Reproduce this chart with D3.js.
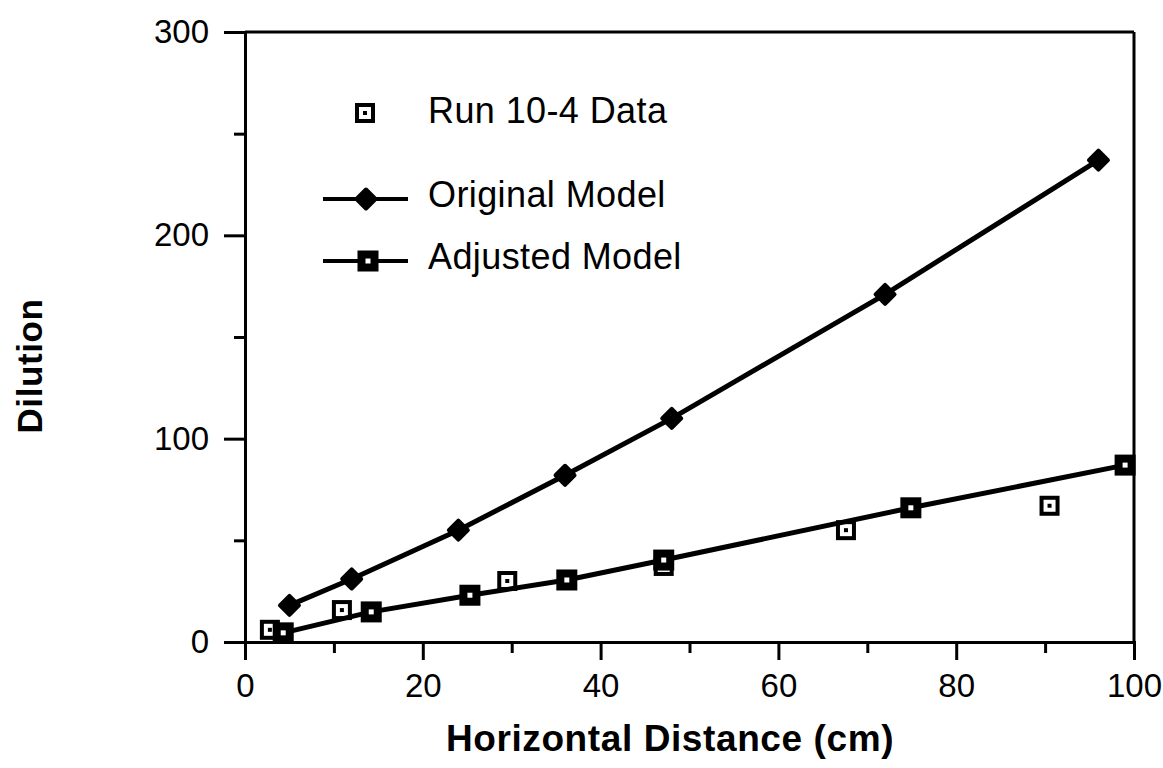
<!DOCTYPE html>
<html>
  <style>
    body { margin: 0; background: #fff; }
    text { font-family: "Liberation Sans", Arial, sans-serif; fill: #000; }
    .axis-title { font-size: 37px; font-weight: bold; letter-spacing: 0.6px; }
    .legend-label { font-size: 36px; letter-spacing: 0.4px; }
  </style>
  <body>
    <div id="chart"></div>
  </body>
  <script src="https://d3js.org/d3.v7.min.js"></script>
  <script>
    // Original model (filled diamonds)
    const ORIGINAL_X = [5, 12, 24, 36, 48, 72, 96];
    const ORIGINAL_Y = [18, 31, 55, 82, 110, 171, 237];

    // Adjusted model (filled squares)
    const ADJUSTED_X = [4.3, 14.2, 25.3, 36.2, 47.1, 74.9, 99];
    const ADJUSTED_Y = [4.5, 14.8, 23, 30.5, 40.3, 66, 87];

    // Run 10-4 measured data (open squares)
    const DATA_X = [2.8, 10.9, 29.5, 47.1, 67.6, 90.5];
    const DATA_Y = [6, 15.7, 30, 37.4, 55, 67];

    const X_TICKS = [0, 20, 40, 60, 80, 100];
    const X_MINOR = [10, 30, 50, 70, 90];
    const Y_TICKS = [0, 100, 200, 300];
    const Y_MINOR = [50, 150, 250];

    const W = 1163, H = 768;
    const x = d3.scaleLinear().domain([0, 100]).range([245, 1134]);
    const y = d3.scaleLinear().domain([0, 300]).range([642, 32]);

    const svg = d3.select("#chart").append("svg")
      .attr("width", W).attr("height", H);

    // frame: top and right edges
    svg.append("line")
      .attr("x1", x(0)).attr("x2", x(100))
      .attr("y1", y(300)).attr("y2", y(300))
      .style("stroke", "#000").style("stroke-width", 3);
    svg.append("line")
      .attr("x1", x(100)).attr("x2", x(100))
      .attr("y1", y(300)).attr("y2", y(0))
      .style("stroke", "#000").style("stroke-width", 3);

    // Y axis
    svg.append("g")
      .attr("transform", "translate(" + x(0) + ",0)")
      .call(d3.axisLeft(y).tickValues(Y_TICKS).tickSize(21).tickPadding(15));
    svg.append("g")
      .attr("transform", "translate(" + x(0) + ",0)")
      .call(d3.axisLeft(y).tickValues(Y_MINOR).tickSize(11).tickFormat(""));

    // X axis
    svg.append("g")
      .attr("transform", "translate(0," + y(0) + ")")
      .call(d3.axisBottom(x).tickValues(X_TICKS).tickSize(18).tickPadding(14));
    svg.append("g")
      .attr("transform", "translate(0," + y(0) + ")")
      .call(d3.axisBottom(x).tickValues(X_MINOR).tickSize(11).tickFormat(""));

    svg.selectAll(".domain").style("stroke", "#000").style("stroke-width", 3);
    svg.selectAll(".tick line").style("stroke", "#000").style("stroke-width", 3);
    svg.selectAll(".tick text")
      .style("font-family", "'Liberation Sans', Arial, sans-serif")
      .style("font-size", "33px").style("fill", "#000");

    // axis titles
    svg.append("text")
      .attr("class", "axis-title")
      .attr("x", 670)
      .attr("y", 751)
      .attr("text-anchor", "middle")
      .text("Horizontal Distance (cm)");
    svg.append("text")
      .attr("class", "axis-title")
      .attr("transform", "translate(42,366) rotate(-90)")
      .attr("text-anchor", "middle")
      .style("font-size", "35px")
      .text("Dilution");

    const line = d3.line().x(d => x(d[0])).y(d => y(d[1]));
    const orig = ORIGINAL_X.map((v, i) => [v, ORIGINAL_Y[i]]);
    const adj = ADJUSTED_X.map((v, i) => [v, ADJUSTED_Y[i]]);
    const obs = DATA_X.map((v, i) => [v, DATA_Y[i]]);

    function openSquare(g, cx, cy, s) {
      g.append("rect")
        .attr("x", cx - s / 2).attr("y", cy - s / 2)
        .attr("width", s).attr("height", s)
        .style("fill", "#fff").style("stroke", "#000").style("stroke-width", 4);
      g.append("rect")
        .attr("x", cx - 2).attr("y", cy - 2)
        .attr("width", 4).attr("height", 4)
        .style("fill", "#000");
    }
    function filledSquare(g, cx, cy, s) {
      g.append("rect")
        .attr("x", cx - s / 2).attr("y", cy - s / 2)
        .attr("width", s).attr("height", s)
        .style("fill", "#000");
      g.append("rect")
        .attr("x", cx - 2.5).attr("y", cy - 2.5)
        .attr("width", 5).attr("height", 5)
        .style("fill", "#fff");
    }
    function diamond(g, cx, cy, s) {
      g.append("path")
        .attr("d", d3.symbol().type(d3.symbolDiamond2).size(s)())
        .attr("transform", "translate(" + cx + "," + cy + ")")
        .style("fill", "#000").style("stroke", "#000")
        .style("stroke-width", 4).style("stroke-linejoin", "round");
    }

    // measured data squares under the model lines
    const obsG = svg.append("g");
    obs.forEach(d => openSquare(obsG, x(d[0]), y(d[1]), 16));

    svg.append("path").datum(orig).attr("d", line)
      .style("fill", "none").style("stroke", "#000").style("stroke-width", 5);
    svg.append("path").datum(adj).attr("d", line)
      .style("fill", "none").style("stroke", "#000").style("stroke-width", 5);

    const origG = svg.append("g");
    orig.forEach(d => diamond(origG, x(d[0]), y(d[1]), 230));
    const adjG = svg.append("g");
    adj.forEach(d => filledSquare(adjG, x(d[0]), y(d[1]), 21));

    // legend
    const lg = svg.append("g");
    openSquare(lg, 365, 113, 16);
    lg.append("text").attr("class", "legend-label").attr("x", 428).attr("y", 123).text("Run 10-4 Data");

    lg.append("line").attr("x1", 323).attr("x2", 408).attr("y1", 199).attr("y2", 199)
      .style("stroke", "#000").style("stroke-width", 4);
    diamond(lg, 366, 199, 230);
    lg.append("text").attr("class", "legend-label").attr("x", 428).attr("y", 207).text("Original Model");

    lg.append("line").attr("x1", 323).attr("x2", 408).attr("y1", 261).attr("y2", 261)
      .style("stroke", "#000").style("stroke-width", 4);
    filledSquare(lg, 368, 261, 21);
    lg.append("text").attr("class", "legend-label").attr("x", 428).attr("y", 269).text("Adjusted Model");
  </script>
</html>
